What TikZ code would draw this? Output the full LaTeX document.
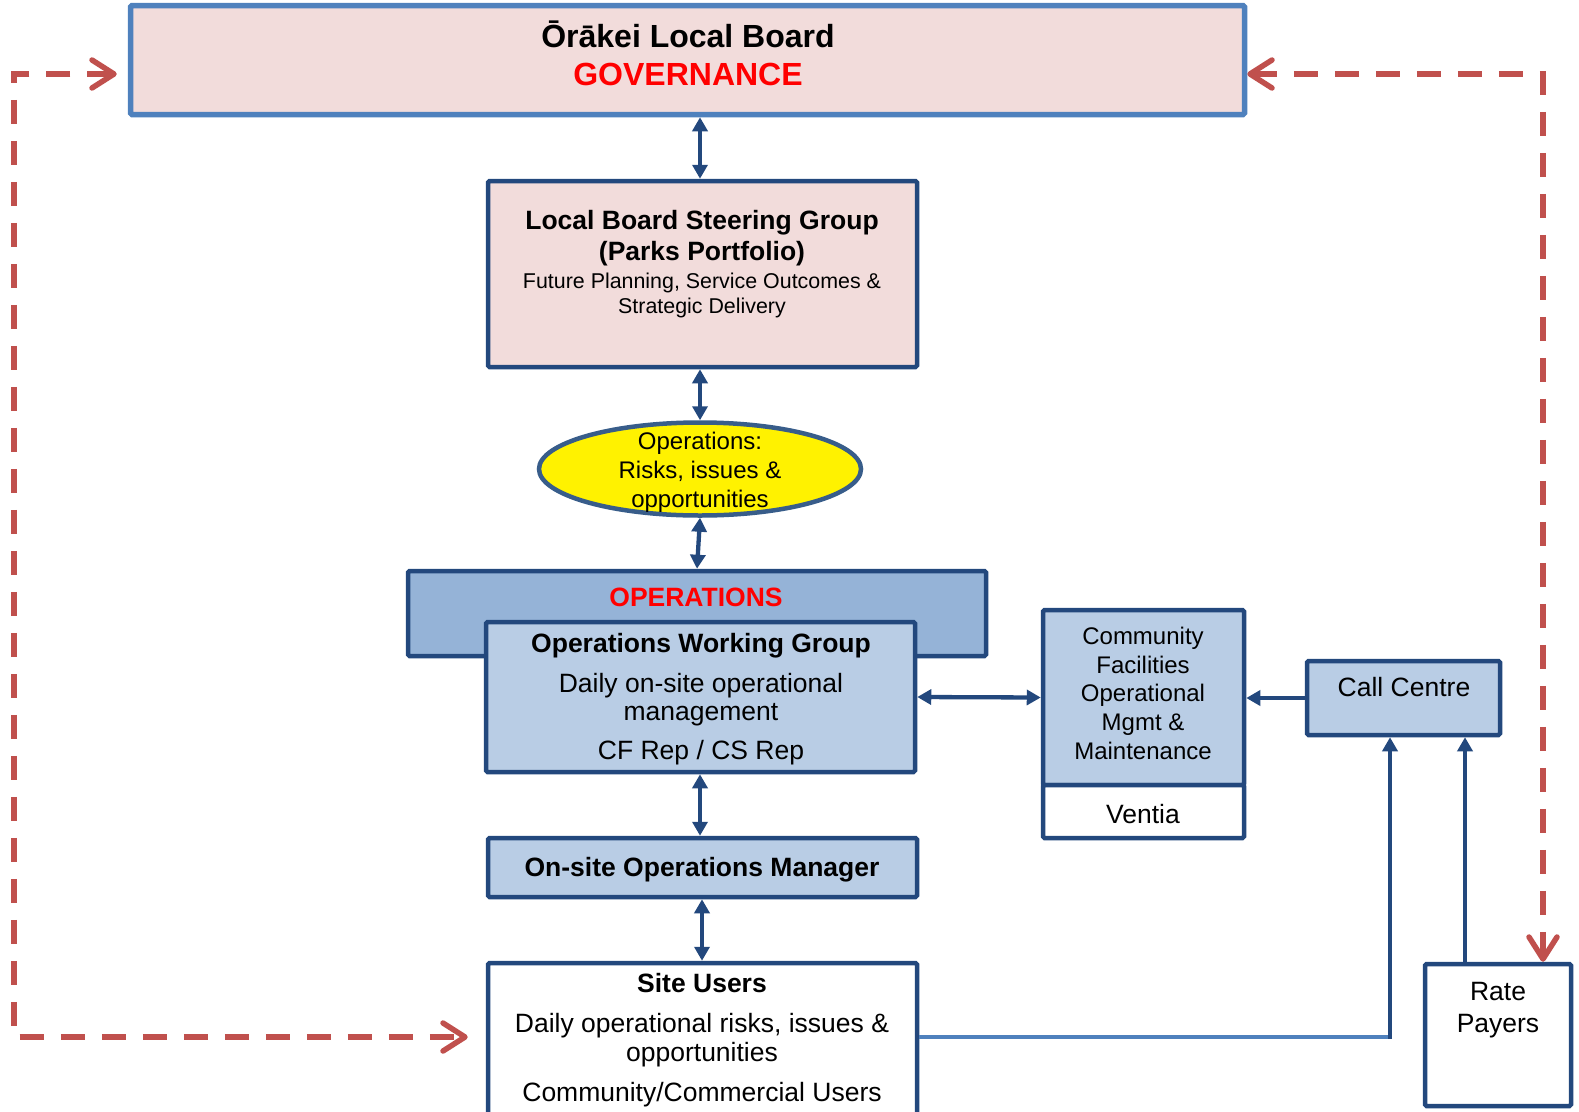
\documentclass[tikz,border=0pt]{standalone}
\usepackage{fontspec}
\setmainfont{Liberation Sans}
\usetikzlibrary{arrows.meta,shapes.geometric,calc}
\definecolor{pinkfill}{HTML}{F2DCDB}
\definecolor{govblue}{HTML}{4F81BD}
\definecolor{navy}{HTML}{23487D}
\definecolor{opsfill}{HTML}{95B3D7}
\definecolor{lightfill}{HTML}{B9CDE5}
\definecolor{ellborder}{HTML}{385D8A}
\definecolor{dashred}{HTML}{C0504D}
\definecolor{txtred}{HTML}{FF0000}
\begin{document}
\begin{tikzpicture}[x=1pt,y=-1pt,
  box/.style={draw=navy, line width=4.5pt, inner sep=0pt, rectangle, rounded corners=1.5pt},
  txt/.style={anchor=base, inner sep=0pt, text=black},
  fbig/.style={font=\fontsize{32}{36}\selectfont\bfseries},
  fmain/.style={font=\fontsize{26.5}{30}\selectfont},
  fmainb/.style={font=\fontsize{26.5}{30}\selectfont\bfseries},
  fsub/.style={font=\fontsize{21.4}{25}\selectfont},
  fmid/.style={font=\fontsize{24}{28}\selectfont},
  conn/.style={draw=navy, line width=4.3pt, {Triangle[length=14pt,width=15pt]}-{Triangle[length=14pt,width=15pt]}},
  conn1/.style={draw=navy, line width=4.3pt, -{Triangle[length=14pt,width=15pt]}},
  reddash/.style={draw=dashred, line width=5.5pt, dash pattern=on 24pt off 17pt,
    {Straight Barb[length=22pt,width=28pt,round]}-{Straight Barb[length=22pt,width=28pt,round]}}
]
\useasboundingbox (0,0) rectangle (1579,1111);

% boxes
\node[box, draw=govblue, line width=5.5pt, fill=pinkfill, minimum width=1114pt, minimum height=109pt] (gov) at (687.5,60) {};
\node[box, fill=pinkfill, minimum width=429pt, minimum height=186pt] (steer) at (702.5,274) {};
\node[ellipse, draw=ellborder, line width=4.5pt, fill=yellow, minimum width=322pt, minimum height=93pt, inner sep=0pt] (ell) at (700,469) {};
\node[box, fill=opsfill, minimum width=578pt, minimum height=85pt] (ops) at (697,613.5) {};
\node[box, fill=lightfill, minimum width=429pt, minimum height=150pt] (wg) at (700.5,697) {};
\node[box, fill=lightfill, minimum width=201pt, minimum height=175pt] (cf) at (1143.5,697.5) {};
\node[box, fill=white, minimum width=201pt, minimum height=53pt] (ventia) at (1143.5,811.5) {};
\node[box, fill=lightfill, minimum width=193pt, minimum height=74pt] (cc) at (1403.5,698) {};
\node[box, fill=lightfill, minimum width=429pt, minimum height=59pt] (onsite) at (702.5,867.5) {};
\node[box, fill=white, minimum width=429pt, minimum height=167pt] (su) at (702.5,1046.5) {};
\node[box, fill=white, minimum width=146pt, minimum height=142pt] (rp) at (1498,1035) {};

% texts
\node[txt, fbig] (g1) at (688,47) {Ōrākei Local Board};
\node[txt, fbig, text=txtred] (g2) at (688,85) {GOVERNANCE};

\node[txt, fmainb] (s1) at (702,229) {Local Board Steering Group};
\node[txt, fmainb] (s2) at (702,260) {(Parks Portfolio)};
\node[txt, fsub] (s3) at (702,288) {Future Planning, Service Outcomes \&};
\node[txt, fsub] (s4) at (702,313) {Strategic Delivery};

\node[txt, fmid] (e1) at (700,449.5) {Operations:};
\node[txt, fmid] (e2) at (700,478.5) {Risks, issues \&};
\node[txt, fmid] (e3) at (700,507.5) {opportunities};

\node[txt, fmainb, text=txtred] (o1) at (696,606.5) {OPERATIONS};

\node[txt, fmainb] (w1) at (701,652) {Operations Working Group};
\node[txt, fmain] (w2) at (701,692) {Daily on-site operational};
\node[txt, fmain] (w3) at (701,720.5) {management};
\node[txt, fmain] (w4) at (701,759.5) {CF Rep / CS Rep};

\node[txt, fmid] (c1t) at (1143,644) {Community};
\node[txt, fmid] (c2t) at (1143,673) {Facilities};
\node[txt, fmid] (c3t) at (1143,701.5) {Operational};
\node[txt, fmid] (c4t) at (1143,730) {Mgmt \&};
\node[txt, fmid] (c5t) at (1143,759) {Maintenance};
\node[txt, fmain] (v1) at (1143,823) {Ventia};

\node[txt, fmain] (cct) at (1404,696.5) {Call Centre};

\node[txt, fmainb] (ot) at (702,876.5) {On-site Operations Manager};

\node[txt, fmainb] (u1) at (702,992.5) {Site Users};
\node[txt, fmain] (u2) at (702,1032.5) {Daily operational risks, issues \&};
\node[txt, fmain] (u3) at (702,1061) {opportunities};
\node[txt, fmain] (u4) at (702,1101) {Community/Commercial Users};

\node[txt, fmain] (r1t) at (1498,1000.5) {Rate};
\node[txt, fmain] (r2t) at (1498,1032.5) {Payers};

% blue connectors
\draw[conn] (gov.south -| 700,0) -- (steer.north -| 700,0);
\draw[conn] (steer.south -| 700,0) -- (ell.north);
\draw[conn] (ell.south) -- (ops.north -| 697,0);
\draw[conn] (wg.south -| 700,0) -- (onsite.north -| 700,0);
\draw[conn] (onsite.south -| 702,0) -- (su.north -| 702,0);
\draw[conn] (wg.east) -- (cf.west);
\draw[conn1] (cc.west) -- (cf.east |- cc.west);

\coordinate (k1) at (1390,1037);
\coordinate (k2) at (1465,900);
\draw[draw=govblue, line width=4.3pt] (su.east |- k1) -- (k1);
\draw[conn1] ($(k1)+(0,2.15)$) -- (cc.south -| k1);
\draw[conn1] (rp.north -| k2) -- (cc.south -| k2);

% red dashed connectors
\coordinate (l1) at (14,74);
\coordinate (l2) at (14,1037);
\coordinate (r1) at (1543,74);
\draw[reddash, shorten <=11pt, shorten >=18pt] (gov.west |- l1) -- (l1) -- (l2) -- (su.west |- l2);
\draw[reddash] (gov.east |- r1) -- (r1) -- (rp.north -| r1);
\end{tikzpicture}
\end{document}
